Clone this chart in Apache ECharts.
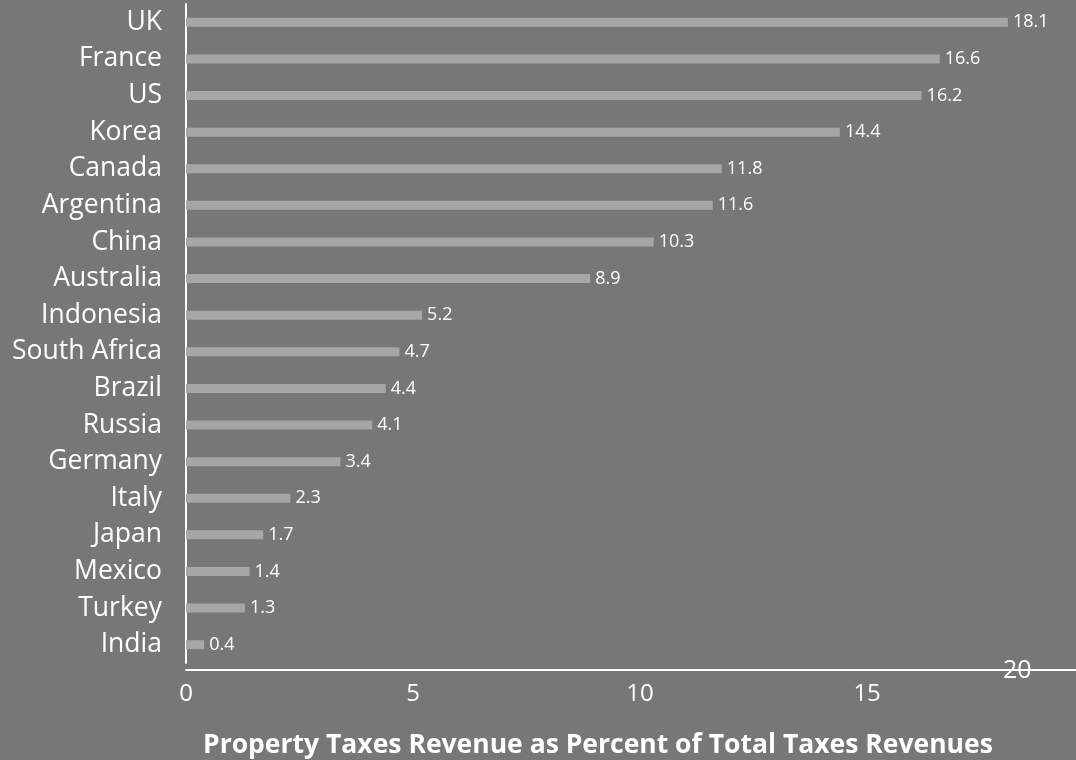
<!DOCTYPE html>
<html>
<head>
<meta charset="utf-8">
<script src="https://cdn.jsdelivr.net/npm/echarts@6/dist/echarts.min.js"></script>
<style>
html,body{margin:0;padding:0;background:#777777;}
#chart{width:1076px;height:760px;}
</style>
</head>
<body>
<div id="chart"></div>
<script>
const countries = ["UK","France","US","Korea","Canada","Argentina","China","Australia","Indonesia","South Africa","Brazil","Russia","Germany","Italy","Japan","Mexico","Turkey","India"];
const values = [18.1,16.6,16.2,14.4,11.8,11.6,10.3,8.9,5.2,4.7,4.4,4.1,3.4,2.3,1.7,1.4,1.3,0.4];
const titleText = "Property Taxes Revenue as Percent of Total Taxes Revenues";
const extraTick = "20";

const chart = echarts.init(document.getElementById('chart'));
chart.setOption({
  backgroundColor: '#777777',
  animation: false,
  textStyle: { fontFamily: 'Open Sans' },
  title: {
    text: titleText,
    left: 198,
    top: 727,
    textStyle: { color: '#ffffff', fontSize: 26.5, fontWeight: 'bold', fontFamily: 'Open Sans' }
  },
  grid: { left: 186, right: 0, top: 4, bottom: 97, containLabel: false },
  xAxis: {
    type: 'value',
    min: 0,
    max: 19.6,
    interval: 5,
    offset: 7,
    axisLine: { show: true, lineStyle: { color: '#ffffff', width: 2 } },
    axisTick: { show: false },
    splitLine: { show: false },
    axisLabel: { color: '#ffffff', fontSize: 24, margin: 12, showMaxLabel: false, fontFamily: 'Open Sans' }
  },
  yAxis: {
    type: 'category',
    inverse: true,
    data: countries,
    axisLine: { show: true, lineStyle: { color: '#ffffff', width: 2 } },
    axisTick: { show: false },
    axisLabel: { color: '#ffffff', fontSize: 26.5, margin: 24, fontFamily: 'Open Sans' }
  },
  graphic: [{
    type: 'text',
    left: 1003,
    top: 658,
    style: { text: extraTick, fill: '#ffffff', fontSize: 25, fontFamily: 'Open Sans' }
  }],
  series: [{
    type: 'bar',
    data: values,
    barWidth: 9,
    itemStyle: { color: '#a6a6a6' },
    label: { show: true, position: 'right', distance: 5, color: '#ffffff', fontSize: 18, fontFamily: 'Open Sans' }
  }]
});
</script>
</body>
</html>
